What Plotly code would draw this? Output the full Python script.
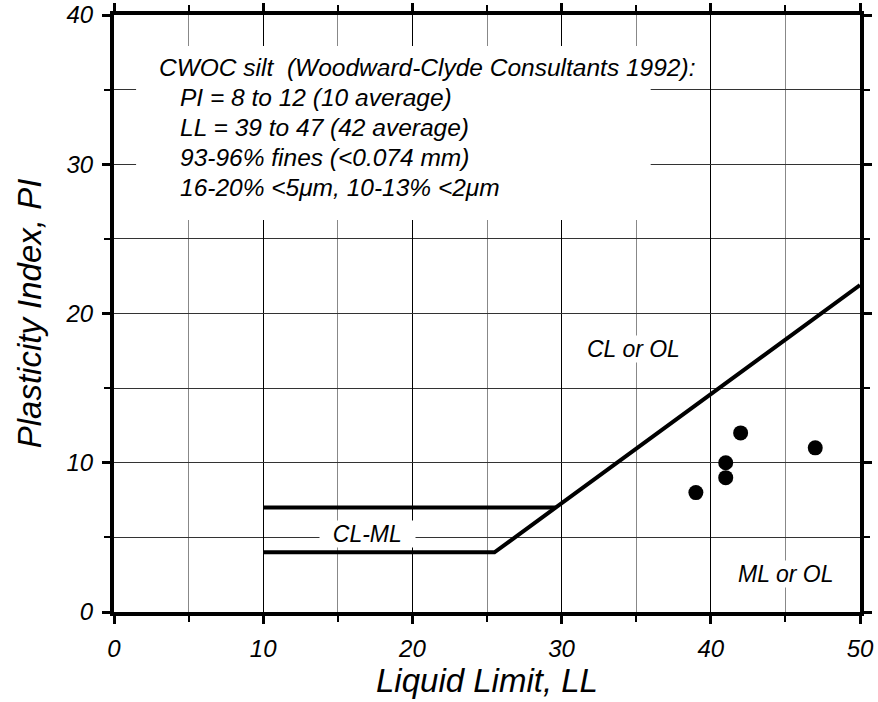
import plotly.graph_objects as go

# ---- data ----
LL = [39, 41, 41, 42, 47]
PI = [8, 10, 9, 12, 11]

a_line_LL = [10, 25.5, 50]
a_line_PI = [4, 4, 21.9]

upper_LL = [10, 29.6]
upper_PI = [7, 7]

note_lines = [
    "CWOC silt  (Woodward-Clyde Consultants 1992):",
    "PI = 8 to 12 (10 average)",
    "LL = 39 to 47 (42 average)",
    "93-96% fines (<0.074 mm)",
    "16-20% <5\u03bcm, 10-13% <2\u03bcm",
]
note_x = [2.9, 4.3, 4.3, 4.3, 4.3]
note_y = [36.5, 34.5, 32.45, 30.45, 28.45]

zone_labels = ["CL or OL", "ML or OL", "\u00a0\u00a0CL-ML\u00a0\u00a0"]
zone_x = [34.8, 45.0, 17.0]
zone_y = [17.6, 2.55, 5.2]

x_ticks = [0, 10, 20, 30, 40, 50]
y_ticks = [0, 10, 20, 30, 40]

FONT = "Liberation Sans, Arial, sans-serif"

fig = go.Figure()

fig.add_trace(go.Scatter(x=a_line_LL, y=a_line_PI, mode="lines",
                         line=dict(color="black", width=4), hoverinfo="skip"))
fig.add_trace(go.Scatter(x=upper_LL, y=upper_PI, mode="lines",
                         line=dict(color="black", width=4), hoverinfo="skip"))
fig.add_trace(go.Scatter(x=LL, y=PI, mode="markers",
                         marker=dict(color="black", size=15, line=dict(width=0))))

# white box behind note text
fig.add_shape(type="rect", xref="x", yref="y", x0=1.48, x1=35.97, y0=26.27, y1=37.92,
              fillcolor="white", line=dict(width=0), layer="above")

for t, x, y in zip(note_lines, note_x, note_y):
    fig.add_annotation(x=x, y=y, xref="x", yref="y", text=t, showarrow=False,
                       xanchor="left", yanchor="middle",
                       font=dict(family=FONT, size=24.5, color="black", style="italic"))

for t, x, y in zip(zone_labels, zone_x, zone_y):
    fig.add_annotation(x=x, y=y, xref="x", yref="y", text=t, showarrow=False,
                       xanchor="center", yanchor="middle", bgcolor="white", borderpad=0,
                       font=dict(family=FONT, size=23, color="black", style="italic"))

axis_common = dict(
    showline=True, linecolor="black", linewidth=4, mirror="ticks",
    ticks="outside", ticklen=8, tickwidth=3, tickcolor="black",
    tickfont=dict(family=FONT, size=24, color="black", style="italic"),
    zeroline=False, showgrid=True, gridwidth=1, automargin=False,
)

fig.update_xaxes(range=[0, 50], tickvals=x_ticks, gridcolor="black",
                 minor=dict(dtick=5, ticks="outside", ticklen=6, tickwidth=2,
                            tickcolor="black", showgrid=True, gridcolor="#888888", gridwidth=1),
                 ticklabelstandoff=4,
                 title=dict(text="Liquid Limit, LL", standoff=2,
                            font=dict(family=FONT, size=33, color="black", style="italic")),
                 **axis_common)
fig.update_yaxes(range=[0, 40], tickvals=y_ticks, gridcolor="#333333",
                 minor=dict(dtick=5, ticks="outside", ticklen=6, tickwidth=2,
                            tickcolor="black", showgrid=True, gridcolor="#333333", gridwidth=1),
                 ticklabelstandoff=4,
                 title=dict(text="Plasticity Index, PI", standoff=15,
                            font=dict(family=FONT, size=33, color="black", style="italic")),
                 **axis_common)

fig.update_layout(
    width=878, height=702,
    margin=dict(l=114, r=18, t=15, b=90),
    paper_bgcolor="white", plot_bgcolor="white",
    showlegend=False,
    font=dict(family=FONT, color="black", style="italic"),
)

fig.write_html("out.html", config={"displayModeBar": False},
               post_script="document.body.style.margin='0px';")
